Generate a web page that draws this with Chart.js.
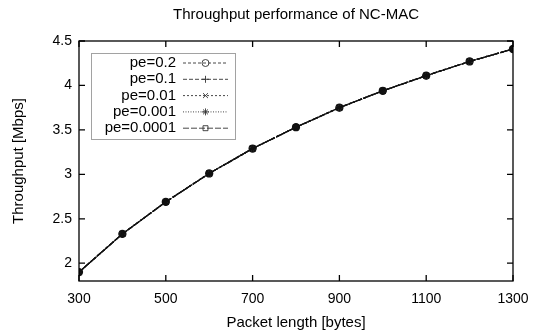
<!DOCTYPE html>
<html>
<head>
<meta charset="utf-8">
<script src="https://cdn.jsdelivr.net/npm/chart.js@4/dist/chart.umd.min.js"></script>
<style>
  html, body { margin: 0; padding: 0; background: #fff; }
  #wrap { width: 540px; height: 335px; position: relative; }
</style>
</head>
<body>
<div id="wrap"><canvas id="myChart" width="540" height="335"></canvas></div>
<script>
const packetLength = [300, 400, 500, 600, 700, 800, 900, 1000, 1100, 1200, 1300];
const pe02     = [1.90, 2.33, 2.69, 3.01, 3.29, 3.53, 3.75, 3.94, 4.11, 4.27, 4.41];
const pe01     = [1.90, 2.33, 2.69, 3.01, 3.29, 3.53, 3.75, 3.94, 4.11, 4.27, 4.41];
const pe001    = [1.90, 2.33, 2.69, 3.01, 3.29, 3.53, 3.75, 3.94, 4.11, 4.27, 4.41];
const pe0001   = [1.90, 2.33, 2.69, 3.01, 3.29, 3.53, 3.75, 3.94, 4.11, 4.27, 4.41];
const pe00001  = [1.90, 2.33, 2.69, 3.01, 3.29, 3.53, 3.75, 3.94, 4.11, 4.27, 4.41];
const seriesLabels = ["pe=0.2", "pe=0.1", "pe=0.01", "pe=0.001", "pe=0.0001"];
const xTicks = [300, 500, 700, 900, 1100, 1300];
const yTicks = [2, 2.5, 3, 3.5, 4, 4.5];
const chartTitle = 'Throughput performance of NC-MAC';

const FONT = "'Liberation Sans', Arial, sans-serif";
const styles = [
    { pointStyle: 'circle',   dash: [3, 2] },
    { pointStyle: 'cross',    dash: [4, 2] },
    { pointStyle: 'crossRot', dash: [2, 2] },
    { pointStyle: 'star',     dash: [1, 1.5] },
    { pointStyle: 'rect',     dash: [6, 2] },
];

const toPoints = (ys) => packetLength.map((x, i) => ({ x: x, y: ys[i] }));

const datasets = [pe02, pe01, pe001, pe0001, pe00001].map((ys, i) => ({
    label: seriesLabels[i],
    data: toPoints(ys),
    borderColor: '#111',
    backgroundColor: 'rgba(0,0,0,0)',
    borderWidth: 1.3,
    borderDash: styles[i].dash,
    pointStyle: styles[i].pointStyle,
    pointRadius: 3.5,
    pointBorderColor: '#111',
    pointBackgroundColor: 'rgba(0,0,0,0)',
    pointBorderWidth: 1.3,
    tension: 0,
}));

// gnuplot style box with inward ticks, title centred over the plot
const framePlugin = {
    id: 'frame',
    afterDraw(chart) {
        const { ctx, chartArea: a, scales } = chart;
        ctx.save();
        ctx.strokeStyle = '#000';
        ctx.lineWidth = 1.3;
        ctx.strokeRect(a.left, a.top, a.right - a.left, a.bottom - a.top);
        const len = 6;
        ctx.beginPath();
        xTicks.forEach(v => {
            const px = scales.x.getPixelForValue(v);
            ctx.moveTo(px, a.bottom); ctx.lineTo(px, a.bottom - len);
            ctx.moveTo(px, a.top); ctx.lineTo(px, a.top + len);
        });
        yTicks.forEach(v => {
            const py = scales.y.getPixelForValue(v);
            ctx.moveTo(a.left, py); ctx.lineTo(a.left + len, py);
            ctx.moveTo(a.right, py); ctx.lineTo(a.right - len, py);
        });
        ctx.stroke();
        ctx.fillStyle = '#000';
        ctx.font = '15px ' + FONT;
        ctx.textAlign = 'center';
        ctx.textBaseline = 'middle';
        ctx.fillText(chartTitle, (a.left + a.right) / 2, 15);
        ctx.restore();
    }
};

// key drawn like gnuplot: text right aligned, then line sample with marker
const keyPlugin = {
    id: 'key',
    afterDatasetsDraw(chart) {
        const { ctx } = chart;
        const box = { left: 91, top: 53, right: 235, bottom: 139 };
        const rowH = 16.3;
        const textRight = 176, lineL = 183, lineR = 228;
        ctx.save();
        ctx.fillStyle = '#fff';
        ctx.fillRect(box.left, box.top, box.right - box.left, box.bottom - box.top);
        ctx.strokeStyle = '#444';
        ctx.lineWidth = 1;
        ctx.setLineDash([1, 1]);
        ctx.strokeRect(box.left + 0.5, box.top + 0.5, box.right - box.left, box.bottom - box.top);
        chart.data.datasets.forEach((ds, i) => {
            const y = box.top + 10 + i * rowH;
            ctx.setLineDash([]);
            ctx.fillStyle = '#000';
            ctx.font = '15px ' + FONT;
            ctx.textAlign = 'right';
            ctx.textBaseline = 'middle';
            ctx.fillText(ds.label, textRight, y);
            ctx.strokeStyle = '#333';
            ctx.lineWidth = 0.9;
            ctx.setLineDash(ds.borderDash);
            ctx.beginPath();
            ctx.moveTo(lineL, y); ctx.lineTo(lineR, y);
            ctx.stroke();
            ctx.setLineDash([]);
            ctx.fillStyle = 'rgba(0,0,0,0)';
            Chart.helpers.drawPoint(ctx, {
                pointStyle: ds.pointStyle, radius: 3.5, rotation: 0, borderWidth: 1
            }, (lineL + lineR) / 2, y);
        });
        ctx.restore();
    }
};

new Chart(document.getElementById('myChart').getContext('2d'), {
    type: 'line',
    data: { datasets: datasets },
    options: {
        responsive: false,
        animation: false,
        layout: { padding: { top: 41, right: 27, bottom: 0, left: 0 } },
        plugins: {
            legend: { display: false },
            tooltip: { enabled: false },
            title: { display: false },
        },
        scales: {
            x: {
                type: 'linear',
                min: 300,
                max: 1300,
                afterBuildTicks: (s) => { s.ticks = xTicks.map(v => ({ value: v })); },
                afterFit: (s) => { s.height = 54; },
                ticks: {
                    color: '#000',
                    padding: 10,
                    font: { family: FONT, size: 14 },
                    callback: (v) => String(v),
                },
                grid: { display: false, drawTicks: false },
                border: { display: false },
                title: {
                    display: true,
                    text: 'Packet length [bytes]',
                    color: '#000',
                    font: { family: FONT, size: 15 },
                    padding: { top: 0, bottom: 3 },
                },
            },
            y: {
                min: 1.8,
                max: 4.5,
                afterBuildTicks: (s) => { s.ticks = yTicks.map(v => ({ value: v })); },
                afterFit: (s) => { s.width = 79; },
                ticks: {
                    color: '#000',
                    padding: 7,
                    font: { family: FONT, size: 14 },
                    callback: (v) => String(v),
                },
                grid: { display: false, drawTicks: false },
                border: { display: false },
                title: {
                    display: true,
                    text: 'Throughput [Mbps]',
                    color: '#000',
                    font: { family: FONT, size: 15 },
                    padding: { top: 10, bottom: 0 },
                },
            },
        },
    },
    plugins: [framePlugin, keyPlugin],
});
</script>
</body>
</html>
